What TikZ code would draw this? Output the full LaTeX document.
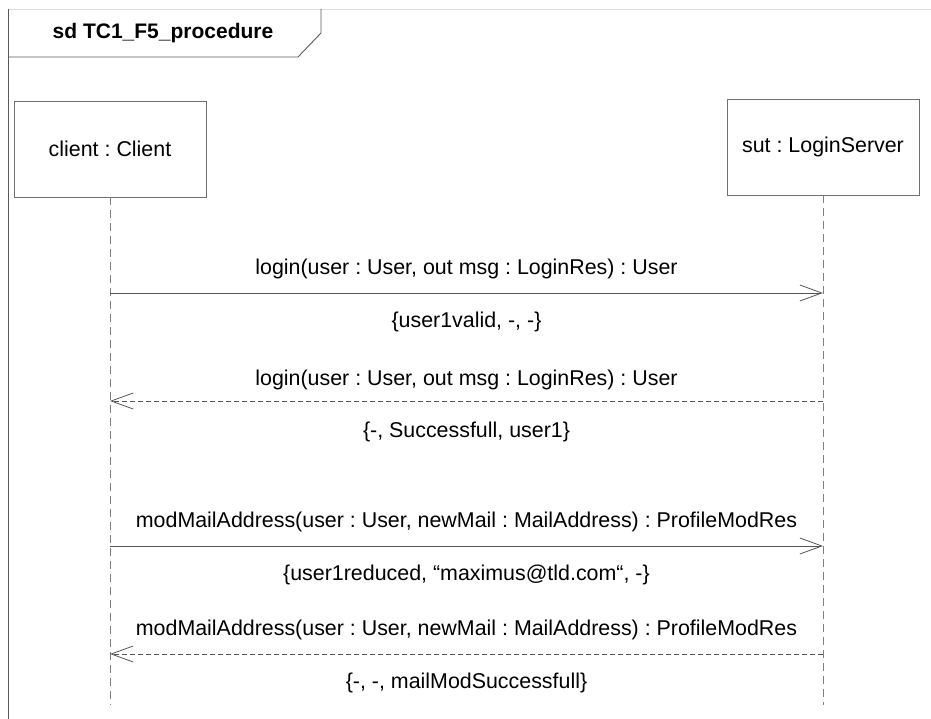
\documentclass[tikz,border=0pt]{standalone}
\usepackage{fontspec}
\setmainfont{Liberation Sans}
\usetikzlibrary{arrows.meta}
\definecolor{frameline}{HTML}{5A5A5A}
\definecolor{faint}{HTML}{DDDDDD}
\definecolor{boxline}{HTML}{707070}
\definecolor{lifeline}{HTML}{808080}
\definecolor{msgline}{HTML}{555555}
\frenchspacing

\begin{document}
\begin{tikzpicture}[x=1pt,y=-1pt,
  font=\fontsize{21.4}{25}\selectfont,
  head/.style={draw=boxline,line width=0.9pt,minimum width=192pt,minimum height=96pt,inner sep=0pt},
  life/.style={draw=lifeline,line width=0.8pt,dash pattern=on 8pt off 5pt},
  call/.style={draw=msgline,line width=0.8pt,-{Straight Barb[length=22pt,width=16pt,line width=0.8pt]}},
  reply/.style={call,dash pattern=on 5pt off 3pt},
  sig/.style={midway,yshift=24pt},
  vals/.style={midway,yshift=-29pt}]
  \useasboundingbox (0,0) rectangle (931,719);
  % frame
  \draw[faint,line width=0.8pt] (8,9) -- (931,9);
  \draw[frameline,line width=1pt] (8,9) -- (8,719);
  \draw[frameline,line width=0.9pt] (8,57) -- (298,57) -- (321,33) -- (321,9);
  \node[font=\fontsize{21}{25}\selectfont\bfseries] (title) at (163,33) {sd TC1\_F5\_procedure};
  % lifelines
  \node[head] (client) at (110,149) {client : Client};
  \node[head] (sut) at (823,147) {sut : LoginServer};
  \coordinate (clientend) at (110,705);
  \coordinate (sutend) at (823,705);
  \draw[life] (client.south) -- (clientend);
  \draw[life] (sut.south) -- (sutend);
  \foreach \n/\y in {1/293,2/401,3/546,4/654} {
    \coordinate (c\n) at (110,\y);
    \coordinate (s\n) at (823,\y);
  }
  % messages
  \draw[call] (c1) -- (s1)
    node[sig] (m1) {login(user : User, out msg : LoginRes) : User}
    node[vals] (v1) {\{user1valid, -, -\}};
  \draw[reply] (s2) -- (c2)
    node[sig,yshift=-3pt] (m2) {login(user : User, out msg : LoginRes) : User}
    node[vals,yshift=-2pt] (v2) {\{-, Successfull, user1\}};
  \draw[call] (c3) -- (s3)
    node[sig] (m3) {modMailAddress(user : User, newMail : MailAddress) : ProfileModRes}
    node[vals] (v3) {\{user1reduced, “maximus@tld.com“, -\}};
  \draw[reply] (s4) -- (c4)
    node[sig] (m4) {modMailAddress(user : User, newMail : MailAddress) : ProfileModRes}
    node[vals] (v4) {\{-, -, mailModSuccessfull\}};
\end{tikzpicture}
\end{document}
